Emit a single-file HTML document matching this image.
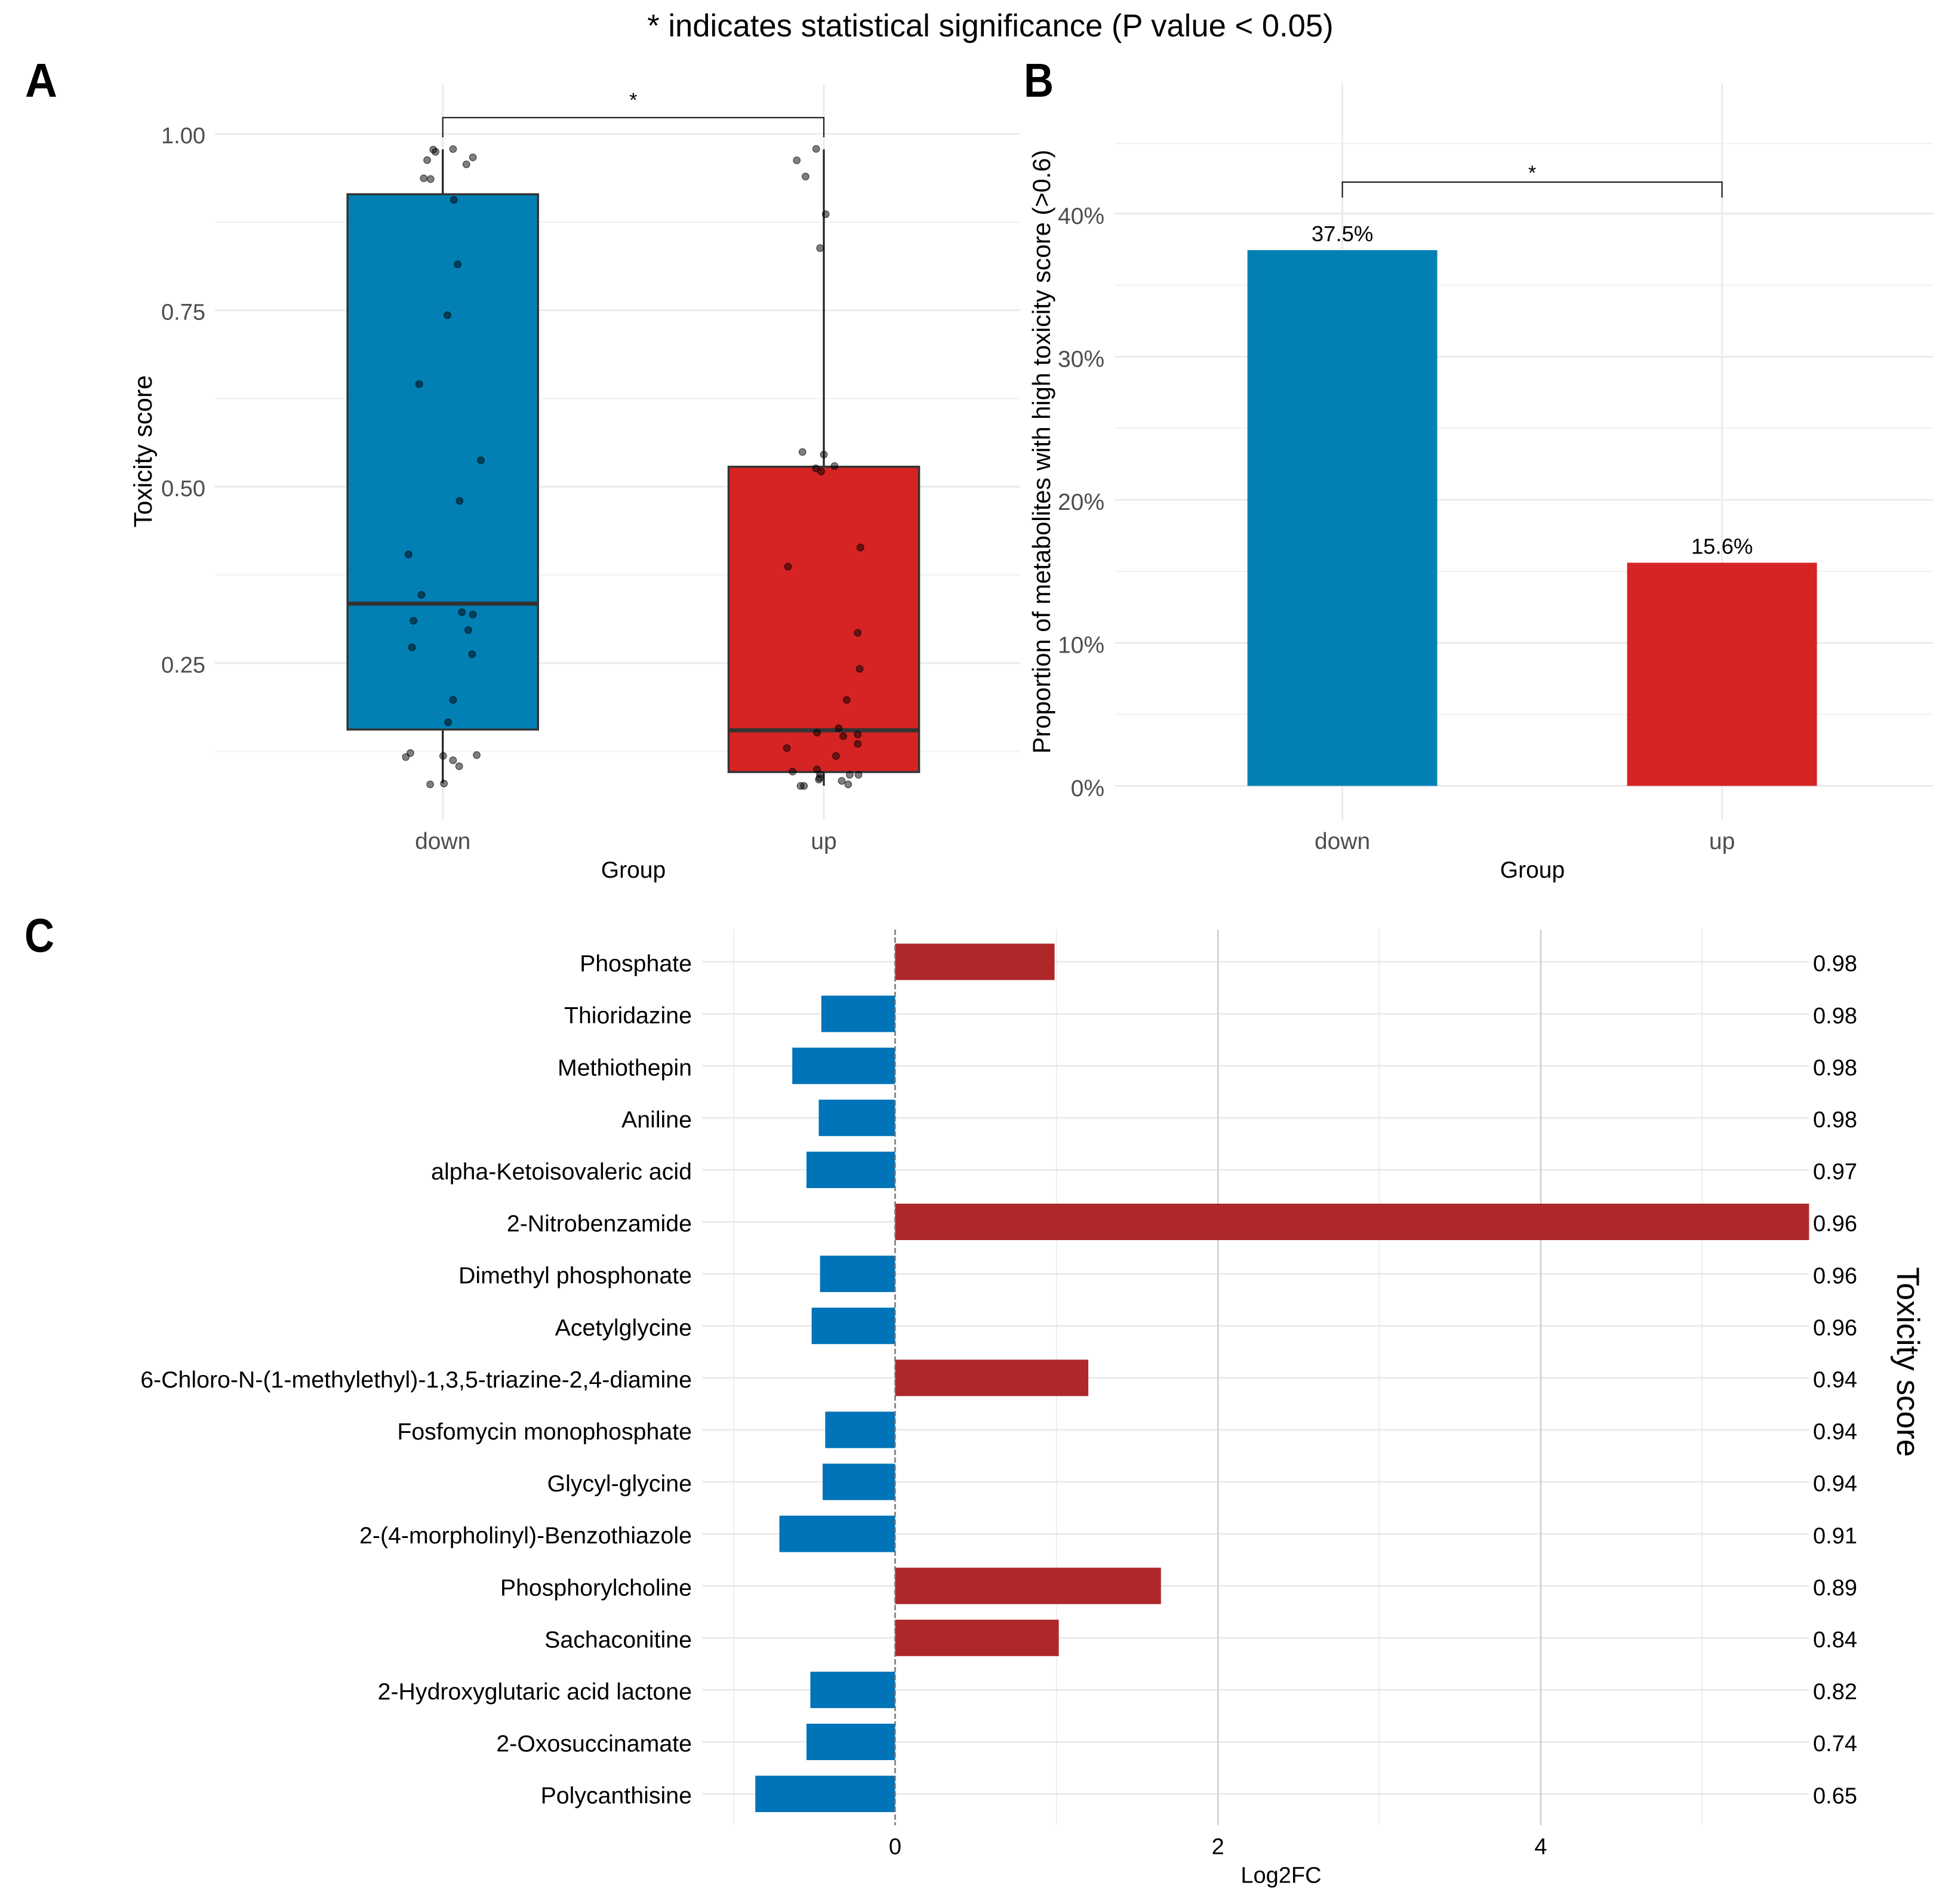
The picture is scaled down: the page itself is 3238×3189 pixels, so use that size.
<!DOCTYPE html>
<html lang="en">
<head>
<meta charset="utf-8">
<title>Toxicity score of metabolites</title>
<style>
html,body{margin:0;padding:0;background:#fff;}
svg{display:block;font-family:"Liberation Sans",Arial,sans-serif;}
</style>
</head>
<body>
<svg id="fig" xmlns="http://www.w3.org/2000/svg" width="3238" height="3189" viewBox="0 0 3238 3189">
  <rect x="0" y="0" width="3238" height="3189" fill="#ffffff"/>
  <text x="1659" y="61" font-size="52.6" text-anchor="middle" fill="#000">* indicates statistical significance (P value &lt; 0.05)</text>
  <text x="42" y="162" font-size="80" font-weight="bold" fill="#000" textLength="54" lengthAdjust="spacingAndGlyphs">A</text>
  <text x="1715" y="162" font-size="80" font-weight="bold" fill="#000" textLength="50" lengthAdjust="spacingAndGlyphs">B</text>
  <text x="41" y="1594" font-size="80" font-weight="bold" fill="#000" textLength="50" lengthAdjust="spacingAndGlyphs">C</text>
  <g id="panelA"></g>
  <g id="panelB"></g>
  <g id="panelC"></g>
</svg>
<script>
// ---------- Panel A data ----------
const boxGroups = ["down", "up"];
const boxQ1 = [0.156, 0.0958];
const boxMedian = [0.3344, 0.155];
const boxQ3 = [0.9145, 0.5284];
const whiskerLow = [0.080, 0.0764];
const whiskerHigh = [0.978, 0.978];
const boxMajorTicks = [0.25, 0.50, 0.75, 1.00];
const boxMajorLabels = ["0.25", "0.50", "0.75", "1.00"];
const boxMinorTicks = [0.125, 0.375, 0.625, 0.875];
const downScores = [0.9777,0.9746,0.9628,0.9785,0.9667,0.9569,0.9371,0.9360,0.9066,0.8152,0.7431,0.6455,0.5375,0.4800,0.4041,0.3469,0.3223,0.3190,0.3101,0.2969,0.2724,0.2628,0.1980,0.1663,0.1227,0.1170,0.1187,0.1125,0.1040,0.1198,0.0783,0.0795];
const downJitter = [-0.025,-0.019,-0.041,0.027,0.079,0.062,-0.050,-0.032,0.029,0.039,0.012,-0.062,0.100,0.044,-0.090,-0.056,0.050,0.079,-0.077,0.067,-0.081,0.077,0.027,0.014,-0.085,-0.097,0.001,0.027,0.043,0.089,-0.033,0.003];
const upScores = [0.9788,0.9626,0.9396,0.8862,0.8382,0.5492,0.5456,0.5294,0.5261,0.5217,0.4140,0.3869,0.2930,0.2420,0.1980,0.1579,0.1517,0.1466,0.1491,0.1356,0.1297,0.1185,0.0964,0.0993,0.0927,0.0876,0.0851,0.0919,0.0919,0.0832,0.0783,0.0761,0.0761];
const upJitter = [-0.020,-0.071,-0.048,0.005,-0.010,-0.056,0.000,0.028,-0.021,-0.007,0.096,-0.094,0.089,0.094,0.060,0.039,-0.018,0.051,0.089,0.089,-0.097,0.032,-0.082,-0.018,-0.010,-0.011,-0.013,0.068,0.091,0.047,0.064,-0.061,-0.052];

// ---------- Panel B data ----------
const propGroups = ["down", "up"];
const propValues = [37.45, 15.6];
const propLabels = ["37.5%", "15.6%"];
const propMajorTicks = [0, 10, 20, 30, 40];
const propMajorLabels = ["0%", "10%", "20%", "30%", "40%"];
const propMinorTicks = [5, 15, 25, 35, 44.9];

// ---------- Panel C data ----------
const metabolites = ["Phosphate","Thioridazine","Methiothepin","Aniline","alpha-Ketoisovaleric acid","2-Nitrobenzamide","Dimethyl phosphonate","Acetylglycine","6-Chloro-N-(1-methylethyl)-1,3,5-triazine-2,4-diamine","Fosfomycin monophosphate","Glycyl-glycine","2-(4-morpholinyl)-Benzothiazole","Phosphorylcholine","Sachaconitine","2-Hydroxyglutaric acid lactone","2-Oxosuccinamate","Polycanthisine"];
const log2fc = [0.988,-0.457,-0.637,-0.473,-0.549,5.662,-0.465,-0.517,1.197,-0.433,-0.449,-0.717,1.647,1.014,-0.525,-0.549,-0.866];
const toxicityLabels = ["0.98","0.98","0.98","0.98","0.97","0.96","0.96","0.96","0.94","0.94","0.94","0.91","0.89","0.84","0.82","0.74","0.65"];
const fcMajorTicks = [0, 2, 4];
const fcMajorLabels = ["0", "2", "4"];
const fcMinorTicks = [-1, 1, 3, 5];

// ---------- Helpers and axis functions ----------
const NS = "http://www.w3.org/2000/svg";
const BLUE = "#0280b4", RED = "#d62323", CBLUE = "#0074b8", CRED = "#ae282a";
const MAJOR = "#ebebeb", MINOR = "#f1f1f1", TICKTEXT = "#4d4d4d";

function mk(parent, tag, attrs) {
  const el = document.createElementNS(NS, tag);
  for (const k in attrs) el.setAttribute(k, attrs[k]);
  parent.appendChild(el);
  return el;
}
function line(parent, x1, y1, x2, y2, stroke, w) {
  return mk(parent, "line", {x1: x1, y1: y1, x2: x2, y2: y2, stroke: stroke, "stroke-width": w});
}
function txt(parent, x, cy, str, size, fill, anchor, rot) {
  const base = rot ? 0 : cy + size * 0.36;
  const el = mk(parent, "text", {x: rot ? 0 : x, y: base, "font-size": size, fill: fill, "text-anchor": anchor});
  if (rot) el.setAttribute("transform", "translate(" + x + "," + cy + ") rotate(" + rot + ")");
  el.textContent = str;
  return el;
}

const yA = v => 224.3 + (1 - v) * 1182;
const xA = c => 741.7 + c * 638.3;
const yB = p => 1316.3 - p * 23.96;
const xB = c => 2248.6 + c * 636;
const yC = i => 1611 + i * 87.1;
const xC = v => 1499.4 + v * 270.4;

// ---------- Panel A ----------
(function () {
  const g = document.getElementById("panelA");
  let el;
  boxMinorTicks.forEach(t => {
    el = line(g, 360, yA(t), 1709, yA(t), MINOR, 2);
    
    
  });
  boxMajorTicks.forEach((t, i) => {
    el = line(g, 360, yA(t), 1709, yA(t), MAJOR, 3);
    
    
    el = txt(g, 344, yA(t) + 2, boxMajorLabels[i], 38, TICKTEXT, "end");
    
    
  });
  boxGroups.forEach((name, i) => {
    el = line(g, xA(i), 141, xA(i), 1373, MAJOR, 3);
    
    
    el = txt(g, xA(i), 1408, name, 39, TICKTEXT, "middle");
    
    
  });
  boxGroups.forEach((name, i) => {
    const fill = i === 0 ? BLUE : RED;
    el = line(g, xA(i), yA(whiskerHigh[i]), xA(i), yA(boxQ3[i]), "#222", 3.2);
    
    
    el = line(g, xA(i), yA(boxQ1[i]), xA(i), yA(whiskerLow[i]), "#222", 3.2);
    
    
    el = mk(g, "rect", {x: xA(i - 0.25), y: yA(boxQ3[i]), width: xA(i + 0.25) - xA(i - 0.25), height: yA(boxQ1[i]) - yA(boxQ3[i]), fill: fill, stroke: "#333", "stroke-width": 3.4});
    
    
    el = line(g, xA(i - 0.25), yA(boxMedian[i]), xA(i + 0.25), yA(boxMedian[i]), "#333", 7);
    
    
  });
  [[downScores, downJitter, 0], [upScores, upJitter, 1]].forEach(s => {
    s[0].forEach((v, k) => {
      const pt = mk(g, "circle", {cx: xA(s[2] + s[1][k]), cy: yA(v), r: 5.8, fill: "#000", "fill-opacity": 0.5, stroke: "#000", "stroke-opacity": 0.6, "stroke-width": 1.2});
      
      
    });
  });
  el = mk(g, "path", {d: "M" + xA(0) + " 230V197H" + xA(1) + "V230", fill: "none", stroke: "#222", "stroke-width": 2.2});
  
  
  el = txt(g, (xA(0) + xA(1)) / 2, 167, "*", 34, "#000", "middle");
  
  
  el = txt(g, 254, 756, "Toxicity score", 42.5, "#000", "middle", -90);
  
  
  el = txt(g, 1061, 1456, "Group", 39, "#000", "middle");
  
  
})();

// ---------- Panel B ----------
(function () {
  const g = document.getElementById("panelB");
  let el;
  propMinorTicks.forEach(t => {
    el = line(g, 1868, yB(t), 3238, yB(t), MINOR, 2);
    
    
  });
  propMajorTicks.forEach((t, i) => {
    el = line(g, 1868, yB(t), 3238, yB(t), MAJOR, 3);
    
    
    el = txt(g, 1850, yB(t) + 3, propMajorLabels[i], 39, TICKTEXT, "end");
    
    
  });
  propGroups.forEach((name, i) => {
    el = line(g, xB(i), 140, xB(i), 1373, MAJOR, 3);
    
    
    el = txt(g, xB(i), 1408, name, 39, TICKTEXT, "middle");
    
    
  });
  propGroups.forEach((name, i) => {
    el = mk(g, "rect", {x: xB(i - 0.25), y: yB(propValues[i]), width: xB(i + 0.25) - xB(i - 0.25), height: yB(0) - yB(propValues[i]), fill: i === 0 ? BLUE : RED});
    
    
    el = txt(g, xB(i), yB(propValues[i]) - 28, propLabels[i], 36.5, "#000", "middle");
    
    
  });
  el = mk(g, "path", {d: "M" + xB(0) + " 331V305H" + xB(1) + "V331", fill: "none", stroke: "#222", "stroke-width": 2.2});
  
  
  el = txt(g, (xB(0) + xB(1)) / 2, 289, "*", 34, "#000", "middle");
  
  
  el = txt(g, 1759, 756.5, "Proportion of metabolites with high toxicity score (>0.6)", 41.6, "#000", "middle", -90);
  
  
  el = txt(g, 2567, 1456, "Group", 39, "#000", "middle");
  
  
})();

// ---------- Panel C ----------
(function () {
  const g = document.getElementById("panelC");
  const top = 1557, bottom = 3057;
  let el;
  fcMinorTicks.forEach(t => {
    el = line(g, xC(t), top, xC(t), bottom, "#eeeeee", 2);
    
    
  });
  metabolites.forEach((name, i) => {
    el = line(g, 1176, yC(i), 3030, yC(i), MAJOR, 3);
    
    
  });
  fcMajorTicks.forEach((t, i) => {
    if (t !== 0) {
      el = line(g, xC(t), top, xC(t), bottom, "#cccccc", 2.5);
      
      
    }
    el = txt(g, xC(t), 3092, fcMajorLabels[i], 38, "#000", "middle");
    
    
  });
  metabolites.forEach((name, i) => {
    const v = log2fc[i];
    el = mk(g, "rect", {x: Math.min(xC(0), xC(v)), y: yC(i) - 30.5, width: Math.abs(xC(v) - xC(0)), height: 61, fill: v >= 0 ? CRED : CBLUE});
    
    
    el = txt(g, 1159, yC(i) + 2, name, 39.3, "#000", "end");
    
    
    el = txt(g, 3037, yC(i) + 2, toxicityLabels[i], 38, "#000", "start");
    
    
  });
  el = line(g, xC(0), top, xC(0), bottom, "#777777", 2.5);
  el.setAttribute("stroke-dasharray", "9 4");
  
  
  el = txt(g, 2146, 3140, "Log2FC", 38, "#000", "middle");
  
  
  el = txt(g, 3178, 2281, "Toxicity score", 53, "#000", "middle", 90);
  
  
})();
</script>
</body>
</html>
